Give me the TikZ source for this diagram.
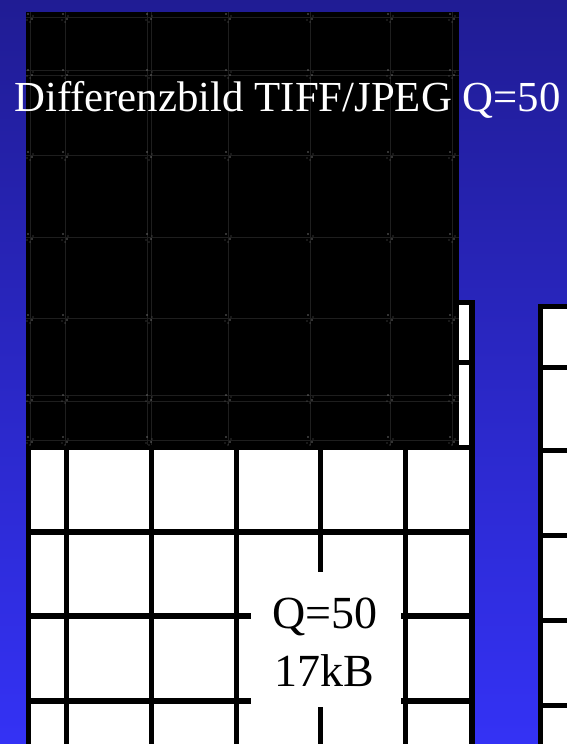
\documentclass[tikz,border=0pt]{standalone}
\usepackage{fontspec}
\setmainfont{Liberation Serif}
\definecolor{bgtop}{RGB}{32,28,148}
\definecolor{bgbot}{RGB}{52,50,245}
\definecolor{faint}{RGB}{30,30,30}
\definecolor{speck}{RGB}{105,105,105}
\tikzset{
  gridline/.style={line width=5.5pt, black},
  faintline/.style={line width=1pt, faint},
  titletext/.style={anchor=base west, inner sep=0pt, text=white, font=\fontsize{42.8}{50}\selectfont},
  boxtext/.style={anchor=base, inner sep=0pt, text=black, font=\fontsize{46}{56}\selectfont},
}
\begin{document}
\begin{tikzpicture}[x=1pt,y=-1pt]
\useasboundingbox (0,0) rectangle (567,744);
\clip (0,0) rectangle (567,744);
% background
\shade[top color=bgtop, bottom color=bgbot] (0,0) rectangle (567,744);
% left grid image (JPEG Q=50)
\fill[white] (26,300) rectangle (475,760);
\foreach \x in {28.5,66.5,151.5,236.5,320.5,405.5,472}
  \draw[gridline] (\x,300) -- (\x,760);
\foreach \y in {302.5,362.5,447.5,532,616,701}
  \draw[gridline] (26,\y) -- (475,\y);
% right grid image
\fill[white] (538,304) rectangle (580,760);
\draw[gridline] (540.5,304) -- (540.5,760);
\foreach \y in {306.5,367.5,450.5,535.5,620.5,705.5}
  \draw[gridline] (538,\y) -- (580,\y);
% difference image
\fill[black] (26,12) rectangle (459,445);
\begin{scope}
\clip (26,12) rectangle (459,445);
\foreach \x in {30,65,147,151,228,310,390,452}
  \draw[faintline] (\x,12) -- (\x,445);
\foreach \y in {17,70,75,155,237,318,395,401,440}
  \draw[faintline] (26,\y) -- (459,\y);
\foreach \x in {30,65,149,228,310,390,452}
  \foreach \y in {17,73,155,237,318,398,440}{
    \fill[speck] (\x-2,\y-3) circle (0.8);
    \fill[speck] (\x+2,\y+2) circle (0.8);
    \fill[speck] (\x+3,\y-1) circle (0.7);
    \fill[speck] (\x-3,\y+3) circle (0.7);
    \fill[speck] (\x,\y+5) circle (0.6);
  }
\end{scope}
% title
\node[titletext] (title) at (14,111) {Differenzbild TIFF/JPEG Q=50};
% label box
\node[fill=white, minimum width=150pt, minimum height=135pt, inner sep=0pt] (box) at (326,639.5) {};
\node[boxtext] (qval) at (325,628) {Q=50};
\node[boxtext] (size) at (324,686) {17kB};
\end{tikzpicture}
\end{document}
